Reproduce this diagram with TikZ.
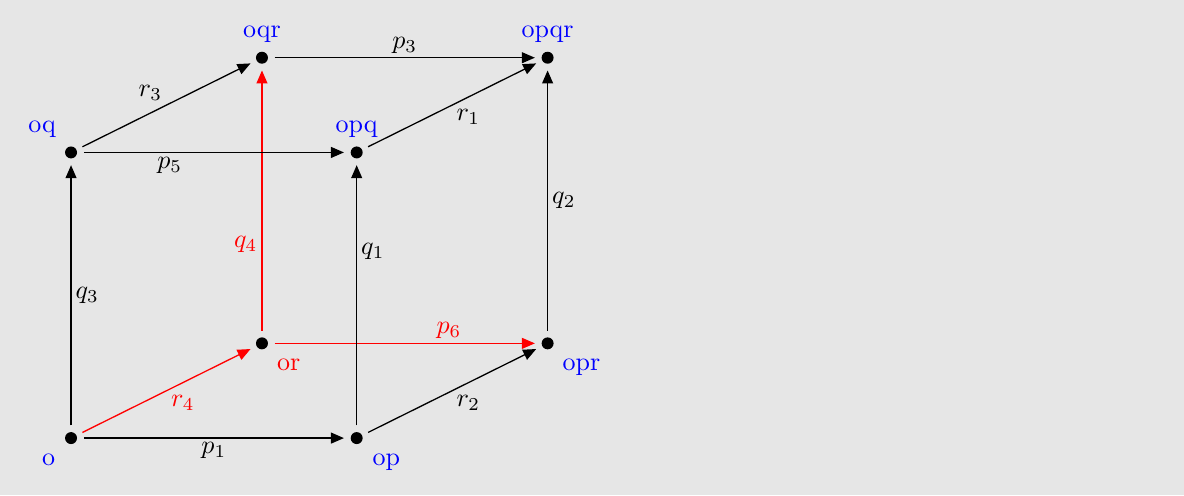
\documentclass[tikz,border=0pt]{standalone}
\usepackage{tikz}
\usetikzlibrary{arrows.meta}
\definecolor{paper}{RGB}{230,230,230}

\tikzset{
  dot/.style={circle,fill=black,inner sep=0pt,minimum size=4.6pt,outer sep=2.6pt},
  edge/.style={line width=0.5pt,-{Triangle[length=5pt,width=4.2pt]}}
}

\begin{document}
\begin{tikzpicture}
    \fill[paper] (-0.96,-0.77) rectangle (15.04,5.92);
    \useasboundingbox (-0.96,-0.77) rectangle (15.04,5.92);
    % vertices of the cube
    \foreach \n/\x/\y/\s/\d/\c in {
      o/0/0/below left/0pt/blue,
      op/3.86/0/below right/0pt/blue,
      or/2.58/1.28/below right/-0.5pt/red,
      opr/6.44/1.28/below right/-0.5pt/blue,
      oq/0/3.86/above left/-0.5pt/blue,
      opq/3.86/3.86/above/-1.8pt/blue,
      oqr/2.58/5.14/above/-1.8pt/blue,
      opqr/6.44/5.14/above/-1.8pt/blue}
    {
      \node[dot,label={[text=\c,inner sep=2.5pt,label distance=\d]\s:\n}] (\n) at (\x,\y) {};
    }
    % edges
    \foreach \a/\b/\l/\s/\p/\c in {
      o/op/p_1/below/.5/black,
      o/or/r_4/below right/.5/red,
      op/opr/r_2/below right/.5/black,
      or/opr/p_6/above/.67/red,
      o/oq/q_3/right/.5/black,
      op/opq/q_1/right/.67/black,
      or/oqr/q_4/left/.33/red,
      opr/opqr/q_2/right/.5/black,
      oq/opq/p_5/below/.33/black,
      oq/oqr/r_3/above left/.5/black,
      opq/opqr/r_1/below right/.5/black,
      oqr/opqr/p_3/above/.5/black}
    {
      \draw[edge,\c] (\a) -- node[\s,pos=\p,inner sep=1.5pt] {$\l$} (\b);
    }
\end{tikzpicture}
\end{document}
